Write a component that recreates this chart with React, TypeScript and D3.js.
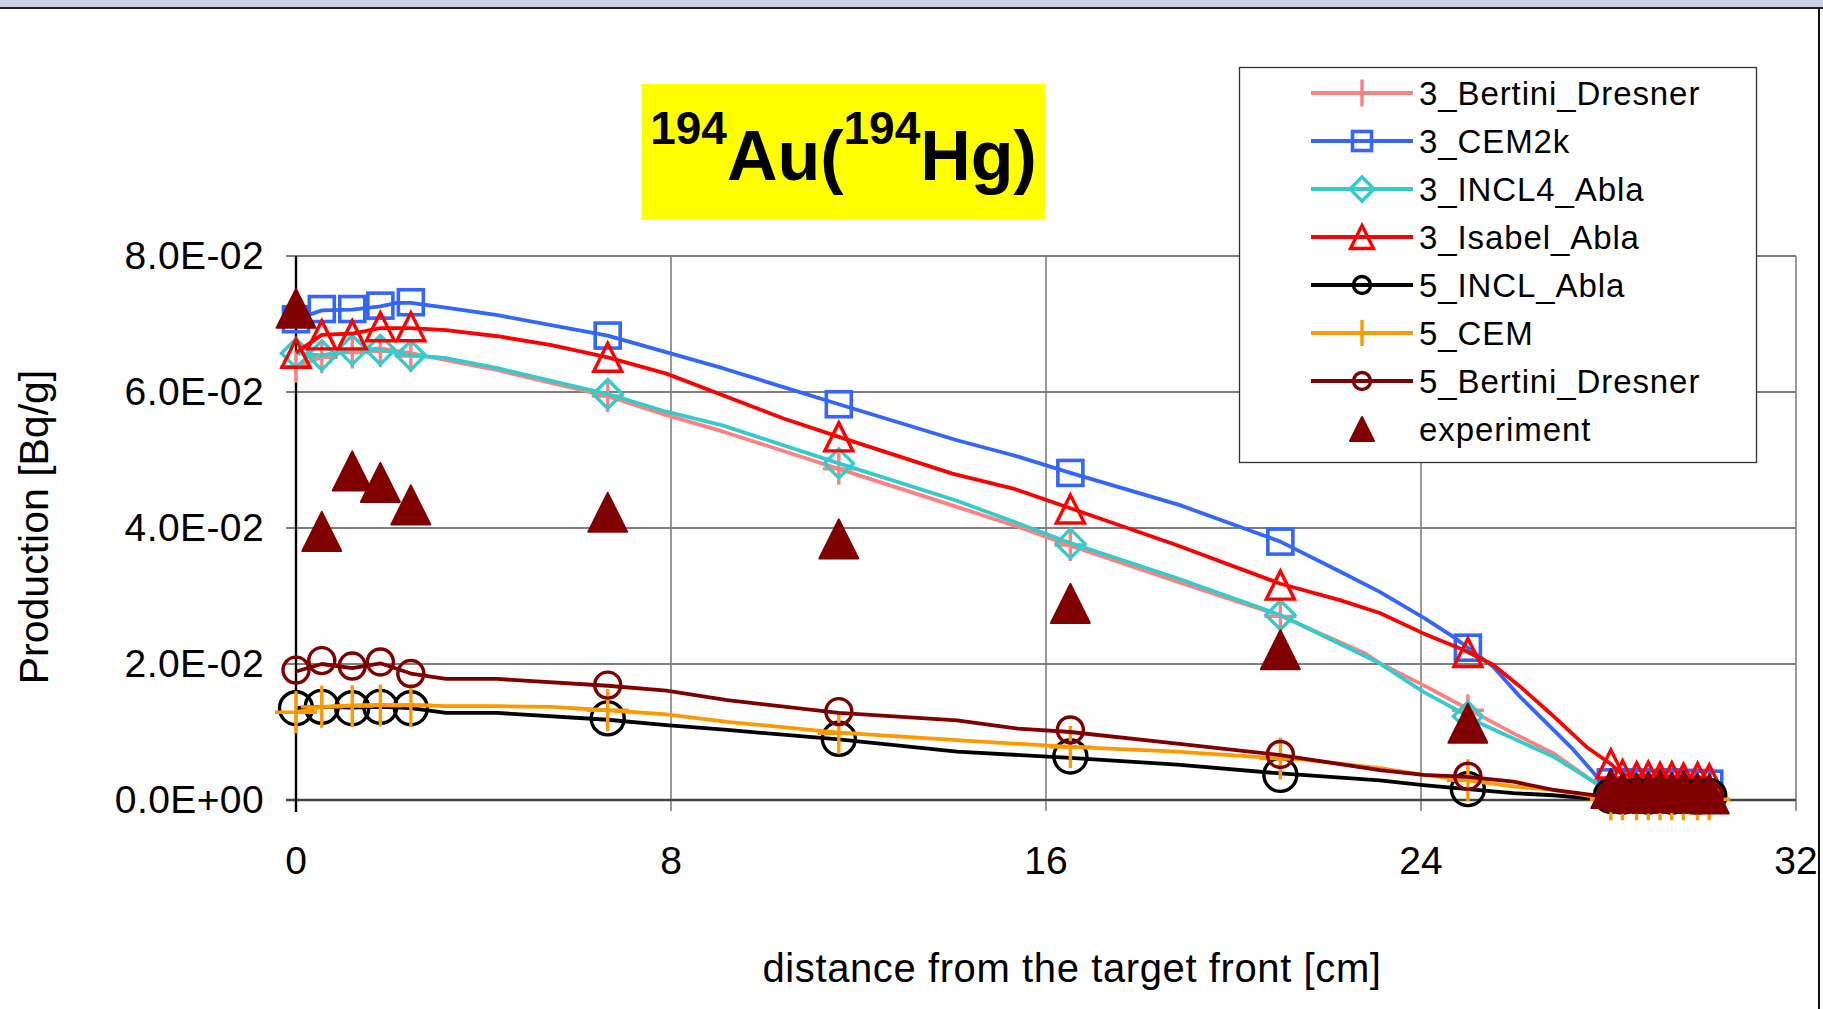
import React from "react";
import * as d3 from "d3";

const W = 1823;
const H = 1009;
const FONT = "'Liberation Sans', Arial, sans-serif";

const xTicks = [0, 8, 16, 24, 32];
const yTicks = [0, 0.02, 0.04, 0.06, 0.08];

// positions (cm) of the plotted markers, same for every series
const markerX = [
  0, 0.55, 1.2, 1.8, 2.45, 6.65, 11.58, 16.52, 21.0, 25.0,
  28.05, 28.3, 28.6, 28.85, 29.1, 29.35, 29.6, 29.9, 30.15,
];

// simulation curves: [distance, production]
const bertini3Line = [
  [0, 0.0637], [0.55, 0.0651], [1.2, 0.0662], [1.8, 0.0664], [2.45, 0.0657], [3.2, 0.0647],
  [4.3, 0.0632], [6.65, 0.0594], [7.9, 0.0566], [9.1, 0.0542], [11.58, 0.0487], [14.1, 0.0431],
  [15.4, 0.0402], [16.52, 0.0374], [18.8, 0.0321], [21.0, 0.0271], [22.8, 0.0216], [23.12, 0.0201],
  [24.05, 0.0169], [25.0, 0.0134], [25.97, 0.0098], [26.82, 0.0069], [27.68, 0.0027],
  [28.05, 0.001], [30.15, 0.0009],
];
const bertini3Marks = [
  0.0637, 0.0651, 0.0658, 0.066, 0.0653, 0.0594, 0.0487, 0.0375, 0.027, 0.0132,
  0.0011, 0.0009, 0.001, 0.0008, 0.0009, 0.001, 0.0008, 0.0009, 0.0008,
];

const cem2kLine = [
  [0, 0.0707], [0.55, 0.072], [1.2, 0.0721], [1.8, 0.0726], [2.15, 0.0731], [2.45, 0.0731],
  [3.2, 0.0724], [4.3, 0.0713], [6.65, 0.0683], [9.1, 0.0635], [11.58, 0.0582], [14.1, 0.0529],
  [15.3, 0.0507], [16.52, 0.0481], [18.84, 0.0434], [21.0, 0.038], [22.27, 0.0336], [23.12, 0.0306],
  [24.08, 0.0267], [24.69, 0.024], [25.0, 0.0224], [25.54, 0.0196], [26.11, 0.0152], [27.25, 0.0074],
  [27.82, 0.0029], [28.05, 0.0025], [30.3, 0.0025],
];
const cem2kMarks = [
  0.0707, 0.0722, 0.0722, 0.0727, 0.0732, 0.0683, 0.0582, 0.0481, 0.038, 0.0224,
  0.0026, 0.0025, 0.0026, 0.0025, 0.0025, 0.0026, 0.0025, 0.0025, 0.0024,
];

const incl4Line = [
  [0, 0.0657], [0.55, 0.0654], [1.2, 0.0662], [1.8, 0.0662], [2.45, 0.0654], [3.2, 0.065],
  [4.3, 0.0635], [6.65, 0.0597], [7.9, 0.0571], [9.1, 0.0551], [11.58, 0.0495], [14.1, 0.044],
  [15.4, 0.0407], [16.52, 0.0378], [18.8, 0.0326], [21.0, 0.0272], [23.12, 0.0201], [24.05, 0.0159],
  [24.69, 0.0135], [25.0, 0.0123], [25.26, 0.0113], [26.11, 0.0086], [26.82, 0.0064], [27.68, 0.0027],
  [28.05, 0.0012], [30.15, 0.001],
];
const incl4Marks = [
  0.0657, 0.0654, 0.0662, 0.0662, 0.0654, 0.0597, 0.0495, 0.0377, 0.0272, 0.0123,
  0.0012, 0.0011, 0.0012, 0.001, 0.0011, 0.0012, 0.001, 0.0011, 0.001,
];

const isabelLine = [
  [0, 0.0658], [0.55, 0.0684], [1.2, 0.0686], [1.8, 0.0694], [2.45, 0.0694], [3.2, 0.0691],
  [4.3, 0.0682], [5.45, 0.0669], [6.65, 0.0651], [7.9, 0.0627], [10.4, 0.0561], [11.58, 0.0534],
  [14.0, 0.048], [15.3, 0.0458], [16.52, 0.0429], [18.78, 0.0375], [21.0, 0.0318], [22.27, 0.0294],
  [23.12, 0.0275], [24.05, 0.0245], [24.9, 0.0221], [25.54, 0.0199], [26.11, 0.0167], [26.75, 0.0128],
  [27.53, 0.0078], [28.05, 0.0053], [28.3, 0.0037], [30.15, 0.0033],
];
const isabelMarks = [
  0.0657, 0.0684, 0.0684, 0.0696, 0.0696, 0.0651, 0.0534, 0.0428, 0.0316, 0.0217,
  0.0053, 0.0037, 0.0034, 0.0035, 0.0033, 0.0034, 0.0032, 0.0033, 0.0031,
];

const incl5Line = [
  [0, 0.0135], [0.55, 0.0137], [1.2, 0.0136], [1.8, 0.0137], [2.45, 0.0135], [3.2, 0.0128],
  [4.3, 0.0128], [6.65, 0.0118], [7.9, 0.011], [9.2, 0.0103], [11.58, 0.0089], [14.1, 0.0071],
  [16.52, 0.0062], [18.8, 0.0052], [21.0, 0.0039], [23.12, 0.0029], [24.05, 0.0022], [25.0, 0.0016],
  [25.97, 0.001], [26.82, 0.0007], [27.68, 0.0002], [28.05, 0.0005], [30.15, 0.0005],
];
const incl5Marks = [
  0.0135, 0.0137, 0.0135, 0.0137, 0.0135, 0.012, 0.009, 0.0064, 0.0037, 0.0016,
  0.0006, 0.0005, 0.0006, 0.0005, 0.0006, 0.0005, 0.0006, 0.0005, 0.0006,
];

const cem5Line = [
  [0, 0.0129], [0.55, 0.0137], [1.2, 0.0139], [1.8, 0.014], [2.45, 0.014], [3.2, 0.0138],
  [4.3, 0.0138], [5.45, 0.0137], [6.65, 0.0132], [7.9, 0.0126], [9.2, 0.0115], [11.58, 0.0099],
  [14.1, 0.0088], [16.52, 0.0078], [18.8, 0.0071], [21.0, 0.0061], [21.4, 0.006], [23.12, 0.0047],
  [24.05, 0.0037], [25.0, 0.0029], [25.97, 0.002], [26.82, 0.0015], [27.68, 0.0005],
  [28.05, 0.0001], [30.4, 0.0001],
];
const cem5Marks = [
  0.0129, 0.0137, 0.0138, 0.0139, 0.0139, 0.0132, 0.0098, 0.0078, 0.0061, 0.0029,
  0.0001, 0.0001, 0.0001, 0.0001, 0.0001, 0.0001, 0.0001, 0.0001, 0.0001,
];

const bertini5Line = [
  [0, 0.0189], [0.55, 0.02], [1.2, 0.0194], [1.8, 0.0201], [2.45, 0.0186], [3.2, 0.0178],
  [4.3, 0.0178], [6.65, 0.0168], [7.9, 0.0161], [9.2, 0.0147], [11.58, 0.0128], [14.1, 0.0117],
  [15.4, 0.0105], [16.52, 0.01], [18.8, 0.0083], [21.0, 0.0066], [23.12, 0.0044], [24.05, 0.0037],
  [25.0, 0.0034], [25.97, 0.0027], [26.82, 0.0015], [27.68, 0.0007], [28.05, 0.0006], [30.15, 0.0005],
];
const bertini5Marks = [
  0.0191, 0.0205, 0.0197, 0.0203, 0.0186, 0.0169, 0.013, 0.0103, 0.0067, 0.0035,
  0.0006, 0.0007, 0.0006, 0.0005, 0.0006, 0.0007, 0.0006, 0.0005, 0.0006,
];

const experimentMarks = [
  0.0723, 0.0395, 0.0484, 0.0467, 0.0434, 0.0423, 0.0384, 0.0289, 0.0221, 0.0113,
  0.0017, 0.0012, 0.001, 0.0012, 0.0015, 0.0011, 0.0014, 0.001, 0.0009,
];

const series = [
  { name: "3_Bertini_Dresner", color: "#FF8080", line: bertini3Line, marks: bertini3Marks, shape: "cross", size: 32, legendSize: 27 },
  { name: "3_CEM2k", color: "#3366FF", line: cem2kLine, marks: cem2kMarks, shape: "square", size: 25, legendSize: 19 },
  { name: "3_INCL4_Abla", color: "#33CCCC", line: incl4Line, marks: incl4Marks, shape: "diamond", size: 29, legendSize: 24 },
  { name: "3_Isabel_Abla", color: "#FF0000", line: isabelLine, marks: isabelMarks, shape: "triangle", size: 28, legendSize: 23 },
  { name: "5_INCL_Abla", color: "#000000", line: incl5Line, marks: incl5Marks, shape: "circle", size: 33, legendSize: 17 },
  { name: "5_CEM", color: "#FF9900", line: cem5Line, marks: cem5Marks, shape: "cross", size: 42, legendSize: 26 },
  { name: "5_Bertini_Dresner", color: "#800000", line: bertini5Line, marks: bertini5Marks, shape: "circle", size: 26, legendSize: 17 },
  { name: "experiment", color: "#800000", line: null, marks: experimentMarks, shape: "solidTriangle", size: 39, legendSize: 24 },
];

const fmtSci = (v: number) => {
  if (v === 0) return "0.0E+00";
  const e = Math.floor(Math.log10(v) + 1e-9);
  const m = v / Math.pow(10, e);
  const sign = e < 0 ? "-" : "+";
  return `${m.toFixed(1)}E${sign}${String(Math.abs(e)).padStart(2, "0")}`;
};

function Marker({ shape, cx, cy, s, color }: any) {
  const h = s / 2;
  if (shape === "cross") {
    return <path d={`M${cx - h},${cy}H${cx + h}M${cx},${cy - h}V${cy + h}`} stroke={color} strokeWidth={3.4} fill="none" />;
  }
  if (shape === "square") {
    return <rect x={cx - h} y={cy - h} width={s} height={s} stroke={color} strokeWidth={3.6} fill="none" />;
  }
  if (shape === "diamond") {
    return <path d={`M${cx},${cy - h}L${cx + h},${cy}L${cx},${cy + h}L${cx - h},${cy}Z`} stroke={color} strokeWidth={3.4} fill="none" />;
  }
  if (shape === "triangle") {
    return <path d={`M${cx},${cy - h}L${cx + h},${cy + h}L${cx - h},${cy + h}Z`} stroke={color} strokeWidth={3.4} fill="none" />;
  }
  if (shape === "solidTriangle") {
    return <path d={`M${cx},${cy - h}L${cx + h},${cy + h}L${cx - h},${cy + h}Z`} stroke={color} strokeWidth={2} strokeLinejoin="round" fill={color} />;
  }
  return <circle cx={cx} cy={cy} r={h} stroke={color} strokeWidth={3.4} fill="none" />;
}

export default function App() {
  const x = d3.scaleLinear().domain([0, 32]).range([296, 1796]);
  const y = d3.scaleLinear().domain([0, 0.08]).range([800, 256]);
  const line = d3.line<number[]>().x((d) => x(d[0])).y((d) => y(d[1]));

  const legendTop = 93;
  const legendStep = 48;

  return (
    <svg width={W} height={H} style={{ position: "absolute", left: 0, top: 0, background: "#fff" }} fontFamily={FONT}>
      {/* window frame */}
      <rect x={0} y={0} width={W} height={7} fill="#CDD1E4" />
      <line x1={0} x2={W} y1={8} y2={8} stroke="#222" strokeWidth={2} />
      <line x1={1819} x2={1819} y1={8} y2={H} stroke="#111" strokeWidth={2} />

      {/* gridlines */}
      {yTicks.filter((t) => t > 0).map((t) => (
        <line key={"gy" + t} x1={286} x2={1796} y1={y(t)} y2={y(t)} stroke="#555" strokeWidth={1.4} />
      ))}
      {xTicks.filter((t) => t > 0).map((t) => (
        <line key={"gx" + t} x1={x(t)} x2={x(t)} y1={y(0.08)} y2={811} stroke="#777" strokeWidth={1.5} />
      ))}

      {/* axes */}
      <line x1={286} x2={1796} y1={y(0)} y2={y(0)} stroke="#444" strokeWidth={2.6} />
      <line x1={x(0)} x2={x(0)} y1={y(0.08)} y2={812} stroke="#000" strokeWidth={2.4} />
      {yTicks.map((t) => (
        <text key={"yl" + t} x={264} y={y(t) + 13} textAnchor="end" fontSize={39} letterSpacing={0.4} fill="#000">
          {fmtSci(t)}
        </text>
      ))}
      {xTicks.map((t) => (
        <text key={"xl" + t} x={x(t)} y={874} textAnchor="middle" fontSize={39} fill="#000">
          {t}
        </text>
      ))}
      <text x={1072} y={982} textAnchor="middle" fontSize={40} letterSpacing={0.6} fill="#000">
        distance from the target front [cm]
      </text>
      <text transform="translate(48,527) rotate(-90)" textAnchor="middle" fontSize={41} fill="#000">
        Production [Bq/g]
      </text>

      {/* series */}
      {series.map((s) => (
        <g key={s.name}>
          {s.line && (
            <path d={line(s.line) || ""} fill="none" stroke={s.color} strokeWidth={3.8} strokeLinejoin="round" />
          )}
          {s.marks.map((v, i) => (
            <Marker key={i} shape={s.shape} cx={x(markerX[i])} cy={y(v)} s={s.size} color={s.color} />
          ))}
        </g>
      ))}

      {/* title */}
      <rect x={642} y={84} width={403} height={136} fill="#FFFF00" />
      <text x={843.5} y={144} textAnchor="middle" fontWeight="bold" fill="#000">
        <tspan fontSize={46}>194</tspan>
        <tspan fontSize={70} dy={36}>Au(</tspan>
        <tspan fontSize={46} dy={-36}>194</tspan>
        <tspan fontSize={70} dy={36}>Hg)</tspan>
      </text>

      {/* legend */}
      <rect x={1239.5} y={67.5} width={517} height={395} fill="#fff" stroke="#333" strokeWidth={1.3} />
      {series.map((s, i) => {
        const ry = legendTop + i * legendStep;
        return (
          <g key={"lg" + s.name}>
            {s.line && <line x1={1311} x2={1413} y1={ry} y2={ry} stroke={s.color} strokeWidth={3.8} />}
            <Marker shape={s.shape} cx={1362} cy={ry} s={s.legendSize} color={s.color} />
            <text x={1419} y={ry + 12} fontSize={33} letterSpacing={0.9} fill="#000">
              {s.name}
            </text>
          </g>
        );
      })}
    </svg>
  );
}
